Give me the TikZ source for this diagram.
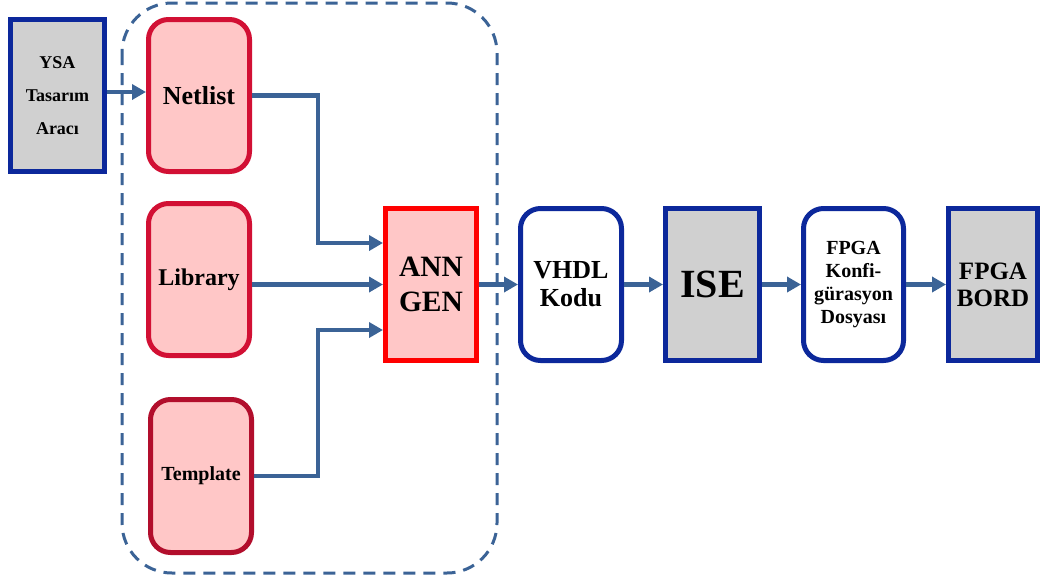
\documentclass[tikz,border=0pt]{standalone}
\usepackage{fontspec}
\setmainfont{Liberation Serif}
\usetikzlibrary{arrows.meta}
\definecolor{boxblue}{RGB}{12,40,155}
\definecolor{crimson}{RGB}{210,16,52}
\definecolor{darkcrimson}{RGB}{178,14,44}
\definecolor{pinkfill}{RGB}{255,199,199}
\definecolor{grayfill}{RGB}{208,208,208}
\definecolor{flowblue}{RGB}{59,99,150}
\tikzset{
  x=1pt, y=-1pt,
  blk/.style={minimum width=#1, minimum height=152pt, inner sep=0pt, align=center, font=\bfseries},
  graybox/.style={draw=boxblue, line width=5pt, fill=grayfill},
  whitebox/.style={draw=boxblue, line width=5pt, fill=white, rounded corners=20pt},
  pinkbox/.style={draw=crimson, line width=5pt, fill=pinkfill, rounded corners=20pt},
  flow/.style={draw=flowblue, line width=4.5pt, -{Triangle[length=14pt,width=15pt]}},
  group/.style={draw=flowblue, line width=3pt, dash pattern=on 12pt off 8pt, rounded corners=50pt}
}
\begin{document}
\begin{tikzpicture}
\useasboundingbox (0,0) rectangle (1041,581);

% dashed frame around the generator inputs
\draw[group] (122,3) rectangle (497,573);

% source tool
\node[blk=94pt, graybox, font=\bfseries\fontsize{18}{33}\selectfont] (ysa) at (57.5,95.5) {YSA\\Tasarım\\Aracı};

% generator inputs
\node[blk=101pt, pinkbox, font=\bfseries\fontsize{26}{30}\selectfont] (netlist) at (199,95.5) {Netlist};
\node[blk=101pt, pinkbox, font=\bfseries\fontsize{24}{28}\selectfont] (library) at (199,279.5) {Library};
\node[blk=101pt, pinkbox, draw=darkcrimson, minimum height=153pt, font=\bfseries\fontsize{20}{24}\selectfont] (template) at (201,476) {Template};

% generator
\node[blk=91pt, minimum height=152pt, draw=red, line width=5pt, fill=pinkfill, font=\bfseries\fontsize{29.5}{35}\selectfont] (ann) at (431,284.5) {ANN\\GEN};

% tool chain
\node[blk=101pt, whitebox, font=\bfseries\fontsize{26}{28}\selectfont] (vhdl) at (571,284.5) {VHDL\\Kodu};
\node[blk=94pt, graybox, font=\bfseries\fontsize{40}{44}\selectfont] (ise) at (712.5,284.5) {ISE};
\node[blk=100pt, whitebox, font=\bfseries\fontsize{20}{23}\selectfont] (conf) at (853.5,284.5) {FPGA\\Konfi-\\gürasyon\\Dosyası};
\node[blk=89pt, graybox, font=\bfseries\fontsize{25}{27}\selectfont] (bord) at (993,284.5) {FPGA\\BORD};

% connectors
\draw[flow] ([yshift=3.5pt]ysa.east) -- ([yshift=3.5pt]netlist.west);
\draw[flow] (netlist.east) -- ++(66,0) |- ([yshift=41.5pt]ann.west);
\draw[flow] (library.east |- ann.west) -- (ann.west);
\draw[flow] (template.east) -- ++(64,0) |- ([yshift=-45.5pt]ann.west);
\draw[flow] (ann.east) -- (vhdl.west);
\draw[flow] (vhdl.east) -- (ise.west);
\draw[flow] (ise.east) -- (conf.west);
\draw[flow] (conf.east) -- (bord.west);
\end{tikzpicture}
\end{document}
